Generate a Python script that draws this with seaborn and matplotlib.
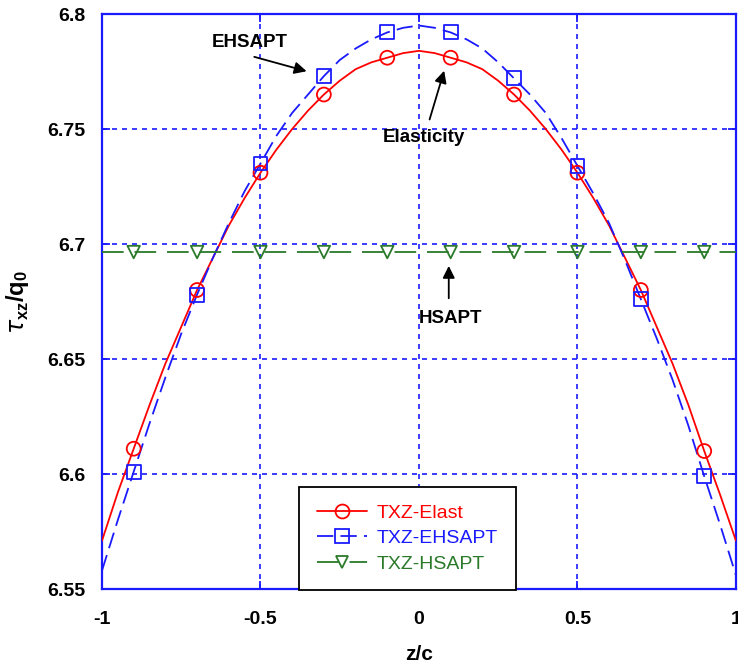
import numpy as np
import pandas as pd
import matplotlib
matplotlib.use("Agg")
import matplotlib.pyplot as plt
from matplotlib.lines import Line2D
import seaborn as sns

# Through-thickness coordinate for the curves
z_line = [-1.0, -0.95, -0.9, -0.85, -0.8, -0.75, -0.7, -0.65, -0.6, -0.55, -0.5,
          -0.45, -0.4, -0.35, -0.3, -0.25, -0.2, -0.15, -0.1, -0.05, 0.0,
          0.05, 0.1, 0.15, 0.2, 0.25, 0.3, 0.35, 0.4, 0.45, 0.5,
          0.55, 0.6, 0.65, 0.7, 0.75, 0.8, 0.85, 0.9, 0.95, 1.0]
# Shear stress tau_xz / q0
elast_line = [6.571, 6.592, 6.611, 6.630, 6.648, 6.664, 6.680, 6.694, 6.708, 6.720, 6.731,
              6.741, 6.750, 6.758, 6.765, 6.771, 6.776, 6.779, 6.781, 6.783, 6.784,
              6.783, 6.781, 6.779, 6.776, 6.771, 6.765, 6.758, 6.750, 6.741, 6.731,
              6.720, 6.708, 6.694, 6.680, 6.664, 6.648, 6.630, 6.610, 6.591, 6.571]
ehsapt_line = [6.558, 6.580, 6.601, 6.622, 6.642, 6.661, 6.678, 6.694, 6.709, 6.723, 6.735,
               6.747, 6.757, 6.765, 6.773, 6.780, 6.785, 6.789, 6.792, 6.794, 6.795,
               6.794, 6.792, 6.789, 6.785, 6.779, 6.772, 6.765, 6.757, 6.746, 6.734,
               6.722, 6.709, 6.693, 6.676, 6.659, 6.641, 6.621, 6.599, 6.578, 6.556]
hsapt_line = [6.6965] * len(z_line)

# Marker locations
z_mark = [-0.9, -0.7, -0.5, -0.3, -0.1, 0.1, 0.3, 0.5, 0.7, 0.9]
elast_mark = [6.611, 6.680, 6.731, 6.765, 6.781, 6.781, 6.765, 6.731, 6.680, 6.610]
ehsapt_mark = [6.601, 6.678, 6.735, 6.773, 6.792, 6.792, 6.772, 6.734, 6.676, 6.599]
hsapt_mark = [6.6965] * len(z_mark)

x_ticks = [-1, -0.5, 0, 0.5, 1]
x_tick_labels = ["-1", "-0.5", "0", "0.5", "1"]
y_ticks = [6.55, 6.6, 6.65, 6.7, 6.75, 6.8]
y_tick_labels = ["6.55", "6.6", "6.65", "6.7", "6.75", "6.8"]

series_names = ["TXZ-Elast", "TXZ-EHSAPT", "TXZ-HSAPT"]
RED, BLUE, GREEN = "#ff0000", "#1a1aff", "#2a7a2a"

sns.set_theme(style="white")
plt.rcParams["font.family"] = ["Liberation Sans Narrow", "Liberation Sans", "DejaVu Sans"]
plt.rcParams["mathtext.fontset"] = "custom"
plt.rcParams["mathtext.bf"] = "Liberation Sans:bold"
plt.rcParams["mathtext.rm"] = "Liberation Sans"
plt.rcParams["text.color"] = "black"
plt.rcParams["axes.labelcolor"] = "black"
plt.rcParams["xtick.labelcolor"] = "black"
plt.rcParams["ytick.labelcolor"] = "black"

fig = plt.figure(figsize=(7.38, 6.71), dpi=100)
ax = fig.add_axes([0.1382, 0.1222, 0.8590, 0.8569])

lines_df = pd.DataFrame({"z": z_line, "elast": elast_line,
                         "ehsapt": ehsapt_line, "hsapt": hsapt_line})
marks_df = pd.DataFrame({"z": z_mark, "elast": elast_mark,
                         "ehsapt": ehsapt_mark, "hsapt": hsapt_mark})

styles = [
    ("elast", RED, "-", "o", 10),
    ("ehsapt", BLUE, (0, (9, 4)), "s", 10),
    ("hsapt", GREEN, (0, (12, 6)), "v", 9),
]
for col, color, ls, mk, ms in styles:
    sns.lineplot(data=lines_df, x="z", y=col, ax=ax, color=color, lw=1.3,
                 linestyle=ls, legend=False, zorder=3)
    sns.scatterplot(data=marks_df, x="z", y=col, ax=ax, marker=mk, s=ms ** 2,
                    facecolor="none", edgecolor=color, linewidth=1.3,
                    legend=False, zorder=4)

ax.set_xlim(-1, 1)
ax.set_ylim(6.55, 6.8)
ax.set_xticks(x_ticks)
ax.set_xticklabels(x_tick_labels)
ax.set_yticks(y_ticks)
ax.set_yticklabels(y_tick_labels)
for lab in ax.get_xticklabels() + ax.get_yticklabels():
    lab.set_fontweight("bold")
    lab.set_fontsize(14)
    lab.set_color("black")
ax.tick_params(direction="in", length=6, width=1.3, color=BLUE,
               top=True, right=True, bottom=True, left=True)
ax.tick_params(axis="x", pad=16)
ax.tick_params(axis="y", pad=12)

ax.grid(True, color=BLUE, linestyle=(0, (3, 3)), linewidth=1.2)
for sp in ax.spines.values():
    sp.set_color(BLUE)
    sp.set_linewidth(1.6)

ax.set_xlabel("z/c", fontsize=15, fontweight="bold", labelpad=12, color="black")
ax.set_ylabel(r"$\tau_{\mathbf{xz}}\mathbf{/q_0}$", fontsize=17, labelpad=12, color="black")

arrow = dict(arrowstyle="-|>", color="black", lw=1.3, mutation_scale=18)
txt_family = ["Liberation Sans", "DejaVu Sans"]
ax.annotate("", xy=(-0.346, 6.7748), xytext=(-0.528, 6.7817), arrowprops=arrow, zorder=6)
ax.text(-0.535, 6.7878, "EHSAPT", ha="center", va="center", fontsize=13.5,
        fontweight="bold", family=txt_family, color="black")
ax.annotate("", xy=(0.082, 6.7765), xytext=(0.031, 6.7530), arrowprops=arrow, zorder=6)
ax.text(0.016, 6.7465, "Elasticity", ha="center", va="center", fontsize=13.5,
        fontweight="bold", family=txt_family, color="black")
ax.annotate("", xy=(0.094, 6.6917), xytext=(0.094, 6.6752), arrowprops=arrow, zorder=6)
ax.text(0.100, 6.6674, "HSAPT", ha="center", va="center", fontsize=13.5,
        fontweight="bold", family=txt_family, color="black")

handles = [
    Line2D([], [], color=RED, lw=1.3, marker="o", ms=10, mfc="none", mew=1.3),
    Line2D([], [], color=BLUE, lw=1.3, ls=(0, (9, 4)), marker="s", ms=10, mfc="none", mew=1.3),
    Line2D([], [], color=GREEN, lw=1.3, ls=(0, (12, 6)), marker="v", ms=9, mfc="none", mew=1.3),
]
leg = ax.legend(handles, series_names, loc="lower left", bbox_to_anchor=(0.311, -0.002),
                borderaxespad=0, frameon=True, fancybox=False, shadow=False, framealpha=1,
                edgecolor="black", handlelength=2.6, handletextpad=0.5,
                borderpad=0.9, labelspacing=0.4,
                prop={"family": txt_family, "size": 14})
leg.get_frame().set_linewidth(1.3)
leg.set_zorder(10)
for txt, c in zip(leg.get_texts(), [RED, BLUE, GREEN]):
    txt.set_color(c)

fig.savefig("out.png", dpi=100, facecolor="white")
